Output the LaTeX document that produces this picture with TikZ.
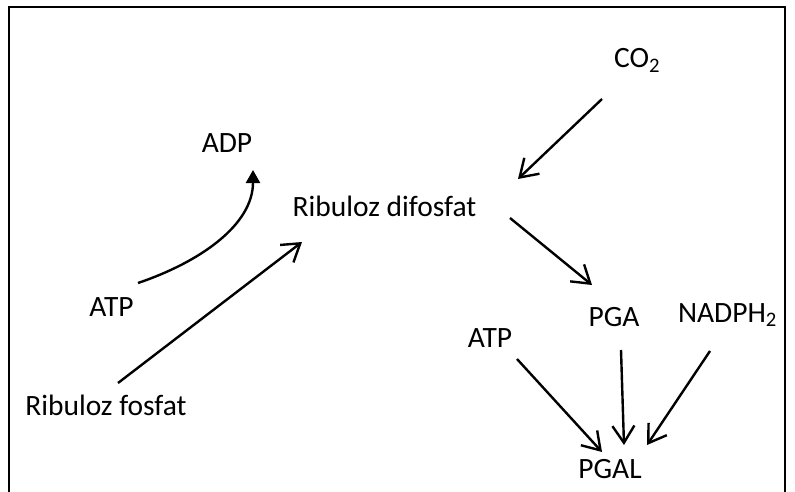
\documentclass[tikz,border=0pt]{standalone}
\usepackage{fontspec}
\setmainfont{Carlito}
\usetikzlibrary{arrows.meta}
\begin{document}
\begin{tikzpicture}[x=1pt,y=-1pt,
  lbl/.style={anchor=base,inner sep=0pt,font=\fontsize{29.5}{34}\selectfont},
  flow/.style={line width=2.4pt,-{Straight Barb[length=17pt,width=22pt,line width=2.4pt]}},
  curvy/.style={line width=2.4pt,-{Triangle[length=13pt,width=14pt]}}]
\useasboundingbox (0,0) rectangle (795,492);
% open frame
\draw[line width=2.2pt] (9,492) -- (9,7) -- (785,7) -- (785,492);

% labels
\node[lbl] (adp)  at (227,153) {ADP};
\node[lbl] (rdf)  at (384.5,216) {Ribuloz difosfat};
\node[lbl] (atpa) at (111.5,316) {ATP};
\node[lbl] (rf)   at (106,415) {Ribuloz fosfat};
\node[lbl] (co)   at (637,68) {CO\textsubscript{2}};
\node[lbl] (pga)  at (614,326) {PGA};
\node[lbl] (nadph) at (727.5,322) {NADPH\textsubscript{2}};
\node[lbl] (atpb) at (490,347) {ATP};
\node[lbl] (pgal) at (610,478) {PGAL};

% connector ends
\coordinate (atpaS) at (138,283);
\coordinate (adpE)  at (253,170);
\coordinate (rfS)   at (118,383);
\coordinate (rdfE)  at (302,242);
\coordinate (coS)   at (602,99);
\coordinate (coE)   at (518,179);
\coordinate (rdfS)  at (510,218);
\coordinate (pgaE)  at (592,285);
\coordinate (atpbS) at (517,359);
\coordinate (atpbE) at (602,452);
\coordinate (pgaS)  at (621,350);
\coordinate (pgaE2) at (624,445);
\coordinate (nadS)  at (710,351);
\coordinate (nadE)  at (647,445);

% connectors
\draw[curvy] (atpaS) .. controls (200,262) and (253,225) .. (adpE);
\draw[flow] (rfS) -- (rdfE);
\draw[flow] (coS) -- (coE);
\draw[flow] (rdfS) -- (pgaE);
\draw[flow] (atpbS) -- (atpbE);
\draw[flow] (pgaS) -- (pgaE2);
\draw[flow] (nadS) -- (nadE);
\end{tikzpicture}
\end{document}
